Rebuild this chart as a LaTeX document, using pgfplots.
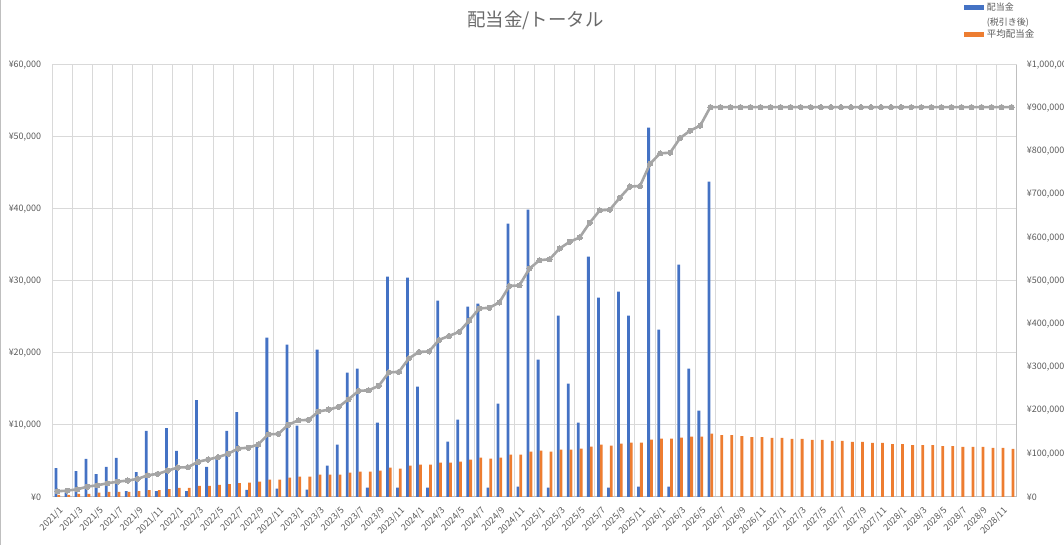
\documentclass[border=0pt]{standalone}
\usepackage{fontspec}
\setmainfont{Noto Sans CJK JP}
\usepackage{pgfplots}
\usepackage{pgfplotstable}
\pgfplotsset{compat=1.18}
\definecolor{cblue}{HTML}{4472C4}
\definecolor{corange}{HTML}{ED7D31}
\definecolor{lgray}{HTML}{A5A5A5}
\definecolor{txtgray}{HTML}{595959}
\definecolor{gridgray}{HTML}{D9D9D9}
\definecolor{axisgray}{HTML}{BFBFBF}

\pgfplotstableread{
i v
0 4000
1 650
2 3610
3 5280
4 3190
5 4170
6 5420
7 830
8 3470
9 9170
10 830
11 9580
12 6390
13 830
14 13470
15 4170
16 5370
17 9170
18 11800
19 1000
20 7040
21 22130
22 1160
23 21160
24 9910
25 1020
26 20460
27 4350
28 7270
29 17270
30 17830
31 1300
32 10320
33 30600
34 1300
35 30470
36 15330
37 1300
38 27270
39 7690
40 10740
41 26440
42 26850
43 1300
44 12960
45 37970
46 1440
47 39910
48 19080
49 1300
50 25190
51 15740
52 10320
53 33380
54 27690
55 1300
56 28520
57 25190
58 1440
59 51300
60 23240
61 1440
62 32270
63 17830
64 11990
65 43800
}\bluedata

\pgfplotstableread{
i v
0 280
1 280
2 420
3 420
4 600
5 700
6 700
7 700
8 830
9 970
10 970
11 1110
12 1250
13 1250
14 1530
15 1530
16 1670
17 1800
18 1940
19 1990
20 2130
21 2410
22 2410
23 2690
24 2820
25 2820
26 3100
27 3100
28 3100
29 3380
30 3520
31 3520
32 3660
33 4070
34 3940
35 4350
36 4490
37 4490
38 4770
39 4770
40 4910
41 5190
42 5460
43 5320
44 5460
45 5880
46 5880
47 6300
48 6440
49 6300
50 6570
51 6570
52 6710
53 6990
54 7270
55 7130
56 7410
57 7550
58 7550
59 7960
60 8100
61 8100
62 8240
63 8380
64 8380
65 8800
66 8610
67 8610
68 8470
69 8330
70 8330
71 8200
72 8200
73 8060
74 8060
75 7920
76 7920
77 7780
78 7780
79 7640
80 7640
81 7500
82 7500
83 7360
84 7360
85 7220
86 7220
87 7220
88 7080
89 7080
90 6950
91 6950
92 6950
93 6810
94 6810
95 6670
}\orangedata

\pgfplotstableread{
i v
0 13300
1 14700
2 17900
3 24000
4 27200
5 31800
6 35600
7 38000
8 41900
9 50400
10 53500
11 61200
12 68200
13 69000
14 81400
15 86800
16 92300
17 100000
18 112300
19 114000
20 121700
21 145000
22 146000
23 167400
24 177500
25 178500
26 197700
27 202300
28 208500
29 226400
30 245700
31 247000
32 257400
33 288400
34 289700
35 320900
36 335700
37 337000
38 363600
39 372900
40 382200
41 408500
42 436400
43 438000
44 450400
45 488400
46 489900
47 528700
48 548100
49 550400
50 575200
51 590700
52 600800
53 634900
54 663600
55 665000
56 693000
57 718600
58 720000
59 771300
60 795400
61 797000
62 831000
63 848100
64 859700
65 902500
66 902500
67 902500
68 902500
69 902500
70 902500
71 902500
72 902500
73 902500
74 902500
75 902500
76 902500
77 902500
78 902500
79 902500
80 902500
81 902500
82 902500
83 902500
84 902500
85 902500
86 902500
87 902500
88 902500
89 902500
90 902500
91 902500
92 902500
93 902500
94 902500
95 902500
}\linedata

\pgfplotsset{
  commonaxis/.style={
    at={(52.3bp,48bp)}, anchor=south west,
    scale only axis, width=964.4bp, height=432bp,
    xmin=-0.5, xmax=95.5, ymin=0,
    enlarge x limits=false,
    major tick length=0pt, minor tick length=0pt,
    tick label style={font=\fontsize{9}{10}\selectfont, text=txtgray},
    /pgf/number format/assume math mode=true,
    scaled y ticks=false,
  }
}

\begin{document}
\begin{tikzpicture}[x=1bp,y=1bp]
\path[use as bounding box] (0,0) rectangle (1064,545);
\draw[draw=axisgray, line width=1bp] (0.7,0) -- (0.7,545);
\node[font=\fontsize{18.5}{21}\selectfont, text=txtgray!90] at (535.4,524.5) {配当金/トータル};
% legend
\fill[cblue] (964.3,535) rectangle (984.3,540);
\node[anchor=west, inner sep=0pt, font=\fontsize{9}{10}\selectfont, text=txtgray] at (986.7,537.5) {配当金};
\node[anchor=west, inner sep=0pt, font=\fontsize{9}{10}\selectfont, text=txtgray] at (986.7,522) {(税引き後)};
\fill[corange] (964.3,508.3) rectangle (984.3,513.3);
\node[anchor=west, inner sep=0pt, font=\fontsize{9.5}{10}\selectfont, text=txtgray] at (986.7,510.8) {平均配当金};

\begin{axis}[
  commonaxis,
  ymax=60000,
  axis x line*=bottom, axis y line*=left,
  axis line style={-},
  x axis line style={draw=axisgray, line width=1bp},
  y axis line style={draw=gridgray, line width=1bp},
  ybar=0pt, bar width=2.8bp,
  ytick={0,10000,20000,30000,40000,50000,60000},
  yticklabels={¥0,{¥10,000},{¥20,000},{¥30,000},{¥40,000},{¥50,000},{¥60,000}},
  yticklabel style={anchor=east, inner sep=0pt, xshift=-11bp},
  xtick={0,2,...,94},
  xticklabels={2021/1,2021/3,2021/5,2021/7,2021/9,2021/11,
    2022/1,2022/3,2022/5,2022/7,2022/9,2022/11,
    2023/1,2023/3,2023/5,2023/7,2023/9,2023/11,
    2024/1,2024/3,2024/5,2024/7,2024/9,2024/11,
    2025/1,2025/3,2025/5,2025/7,2025/9,2025/11,
    2026/1,2026/3,2026/5,2026/7,2026/9,2026/11,
    2027/1,2027/3,2027/5,2027/7,2027/9,2027/11,
    2028/1,2028/3,2028/5,2028/7,2028/9,2028/11},
  xticklabel style={xshift=1bp, yshift=-9bp, rotate=45, anchor=north east, inner sep=0pt},
  minor xtick={-0.5,1.5,...,95.5},
  xminorgrids=true, ymajorgrids=true, xmajorgrids=false,
  major grid style={draw=gridgray, line width=1bp},
  minor grid style={draw=gridgray, line width=1bp},
]
\addplot[fill=cblue, draw=none] table[x=i, y=v] {\bluedata};
\addplot[fill=corange, draw=none] table[x=i, y=v] {\orangedata};
\end{axis}

\begin{axis}[
  commonaxis,
  ymax=1000000,
  axis x line=none, axis y line*=right,
  axis line style={-},
  y axis line style={draw=axisgray, line width=1bp},
  ytick={0,100000,200000,300000,400000,500000,600000,700000,800000,900000,1000000},
  yticklabels={¥0,{¥100,000},{¥200,000},{¥300,000},{¥400,000},{¥500,000},{¥600,000},{¥700,000},{¥800,000},{¥900,000},{¥1,000,000}},
  yticklabel style={anchor=west, inner sep=0pt, xshift=10bp},
]
\addplot[draw=lgray, line width=2.6bp, mark=*, mark size=2.6bp, mark options={fill=lgray, draw=lgray, line width=0pt}] table[x=i, y=v] {\linedata};
\end{axis}
\end{tikzpicture}
\end{document}
